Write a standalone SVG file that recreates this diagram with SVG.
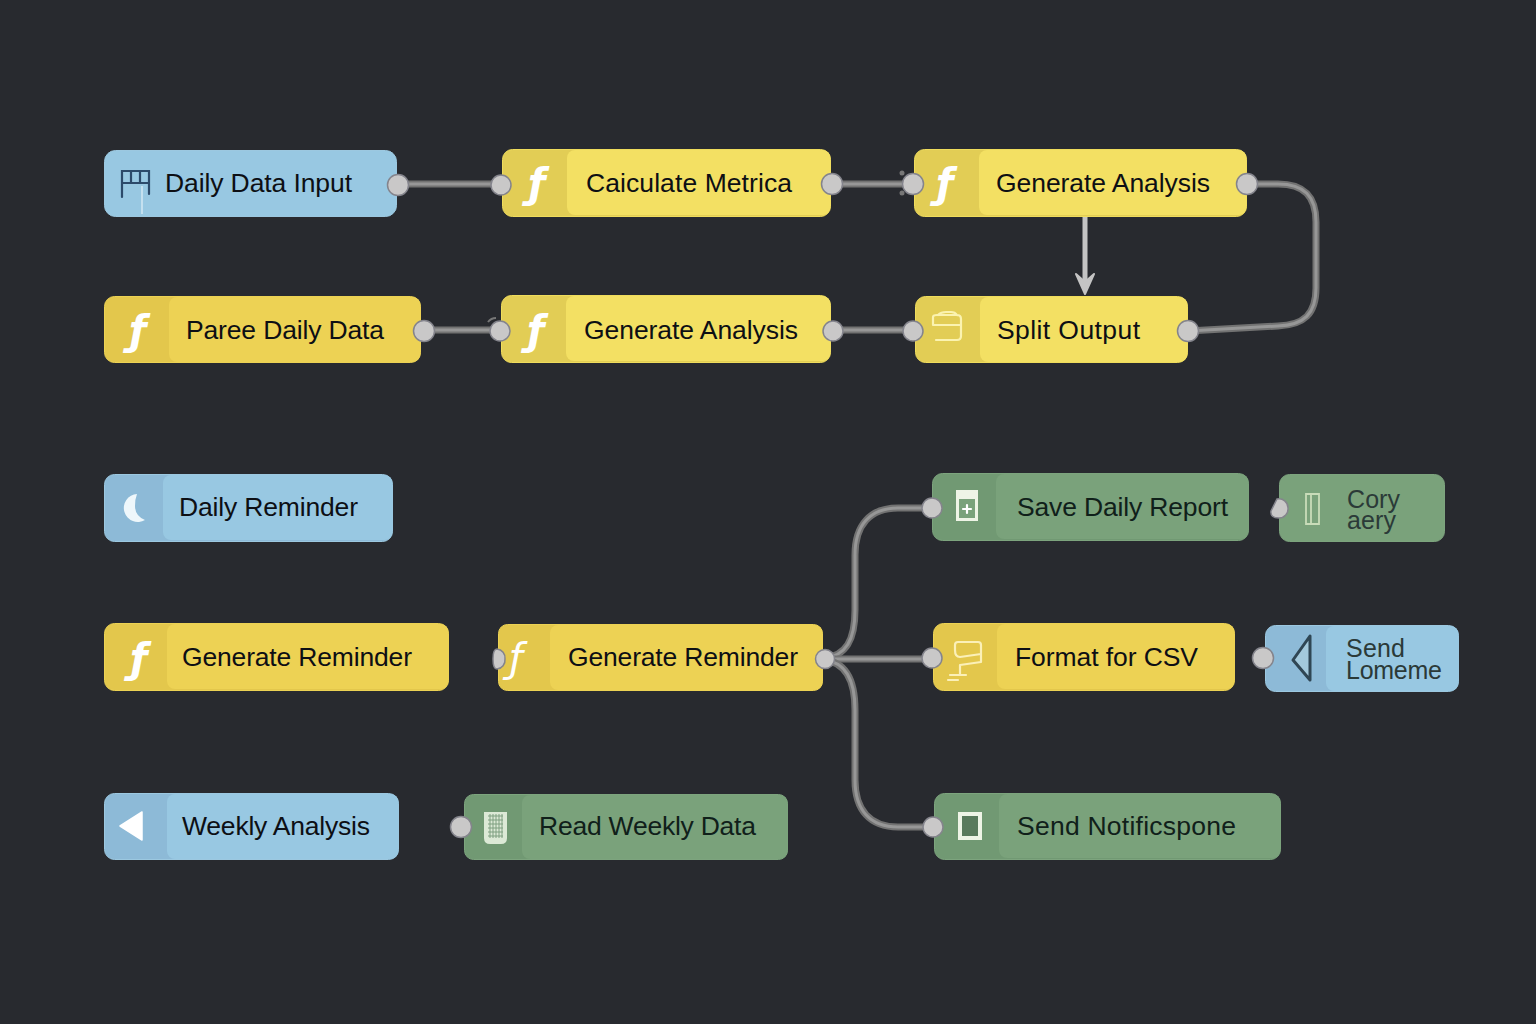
<svg xmlns="http://www.w3.org/2000/svg" width="1536" height="1024" viewBox="0 0 1536 1024">
<style>
text{font-family:"Liberation Sans",Arial,sans-serif;font-size:26.500px;fill:#0d0f14}
.fn{font-family:"DejaVu Sans",sans-serif;font-style:oblique;font-weight:700;font-size:40px;fill:#fff}
.sm{font-size:25px;fill:#2b3a38}
.box{stroke-width:1}
.blue .box{fill:#8dbad7;stroke:#9cc8e0}
.blue .body{fill:#98c8e2}
.yel .box{fill:#e2cd55;stroke:#efdc5c}
.yel .body{fill:#f3e063}
.gold .box{fill:#e3c74c;stroke:#ecd254}
.gold .body{fill:#edd254}
.grn .box{fill:#719973;stroke:#7da47e}
.grn .body{fill:#7aa27b}
.port{fill:#c9c8c8;stroke:#84848c;stroke-width:1.500}
.wire{fill:none;stroke:#727272;stroke-width:7}
.core{fill:none;stroke:#979797;stroke-width:3}
.ic{fill:none;stroke:#fff;stroke-width:2.200;stroke-linecap:round;stroke-linejoin:round}
.icd{fill:none;stroke:#2c4a6a;stroke-width:2.200;stroke-linecap:round}
</style>
<rect width="1536" height="1024" fill="#282a2f"/>
<g id="connectors">
<path class="wire" d="M398 184H500"/><path class="core" d="M398 184H500"/>
<path class="wire" d="M832 184H913"/><path class="core" d="M832 184H913"/>
<path class="wire" d="M424 330H500"/><path class="core" d="M424 330H500"/>
<path class="wire" d="M833 330H914"/><path class="core" d="M833 330H914"/>
<path class="wire" d="M1247 184H1278C1304 184 1316 196 1316 222V288C1316 314 1304 325 1278 326L1188 331"/><path class="core" d="M1247 184H1278C1304 184 1316 196 1316 222V288C1316 314 1304 325 1278 326L1188 331"/>
<path d="M1085 217V290" fill="none" stroke="#c4c4c4" stroke-width="5"/>
<path d="M1076 274L1085 294L1094 274L1085 282Z" fill="#c4c4c4" stroke="#c4c4c4" stroke-width="2" stroke-linejoin="round"/>
<path class="wire" d="M824 658C846 656 855 640 855 610V555C855 525 870 508 898 508H932"/><path class="core" d="M824 658C846 656 855 640 855 610V555C855 525 870 508 898 508H932"/>
<path class="wire" d="M824 659H932"/><path class="core" d="M824 659H932"/>
<path class="wire" d="M824 660C846 662 855 680 855 710V780C855 810 870 827 898 827H933"/><path class="core" d="M824 660C846 662 855 680 855 710V780C855 810 870 827 898 827H933"/>
</g>
<g id="n-daily-data-input" class="blue">
<rect class="box" x="104.500" y="150.500" width="292" height="66" rx="11" style="fill:#98c8e2"/>
<path class="icd" d="M122 197V171H149V194M122 183H149M131 171V183M140 171V183"/>
<path d="M142 186V214" stroke="#c4e0ef" stroke-width="2" fill="none"/>
<text x="165" y="192" textLength="187">Daily Data Input</text>
<circle class="port" cx="398" cy="185" r="10.500"/>
</g>
<g id="n-calculate-metrica" class="yel">
<rect class="box" x="502.500" y="149.500" width="328" height="67" rx="10"/>
<rect class="body" x="567" y="150" width="263.500" height="65" rx="8"/>
<text class="fn" x="528" y="197">ƒ</text>
<text x="586" y="192" textLength="206">Caiculate Metrica</text>
<circle class="port" cx="501" cy="185" r="10"/><circle class="port" cx="832" cy="184" r="10.500"/>
</g>
<g id="n-generate-analysis-1" class="yel">
<rect class="box" x="914.500" y="149.500" width="332" height="67" rx="10"/>
<rect class="body" x="979" y="150" width="267.500" height="65" rx="8"/>
<text class="fn" x="936" y="197">ƒ</text>
<text x="996" y="192" textLength="214">Generate Analysis</text>
<circle cx="902" cy="173" r="2.500" fill="#777"/><circle cx="902" cy="193" r="2.500" fill="#777"/>
<circle class="port" cx="913" cy="184" r="10.500"/><circle class="port" cx="1247" cy="184" r="10.500"/>
</g>
<g id="n-paree-daily-data" class="gold">
<rect class="box" x="104.500" y="296.500" width="316" height="66" rx="10"/>
<rect class="body" x="169" y="297" width="251.500" height="65" rx="8"/>
<text class="fn" x="129" y="344">ƒ</text>
<text x="186" y="339" textLength="198">Paree Daily Data</text>
<circle class="port" cx="424" cy="331" r="10.500"/>
</g>
<g id="n-generate-analysis-2" class="yel">
<rect class="box" x="501.500" y="295.500" width="329" height="67" rx="10"/>
<rect class="body" x="566" y="296" width="264.500" height="65" rx="8"/>
<text class="fn" x="527" y="344">ƒ</text>
<text x="584" y="339" textLength="214">Generate Analysis</text>
<path d="M488 322Q491 318 496 318" fill="none" stroke="#777" stroke-width="2"/>
<circle class="port" cx="500" cy="331" r="10"/><circle class="port" cx="833" cy="331" r="10"/>
</g>
<g id="n-split-output" class="yel">
<rect class="box" x="915.500" y="296.500" width="272" height="66" rx="10"/>
<rect class="body" x="980" y="297" width="207.500" height="65" rx="8"/>
<path class="ic" d="M933 325V317Q933 315 937 315H957Q961 315 961 319V336Q961 340 957 340H936M938 315Q941 312 946 312H951Q955 312 957 315M933 325H961" style="stroke:#fbf3b0"/>
<text x="997" y="339" textLength="143">Split Output</text>
<circle class="port" cx="913" cy="331" r="10"/><circle class="port" cx="1188" cy="331" r="10.500"/>
</g>
<g id="n-daily-reminder" class="blue">
<rect class="box" x="104.500" y="474.500" width="288" height="67" rx="10"/>
<rect class="body" x="163" y="475" width="229.500" height="65" rx="8"/>
<path d="M137 494A14 14 0 1 0 145 520Q135 516 135 506Q135 499 137 494Z" fill="#eef7fb"/>
<text x="179" y="516" textLength="179">Daily Reminder</text>
</g>
<g id="n-save-daily-report" class="grn">
<rect class="box" x="932.500" y="473.500" width="316" height="67" rx="10"/>
<rect class="body" x="996" y="474" width="252.500" height="65" rx="8"/>
<path d="M956 490H978V521H956Z" fill="#eef4e6"/>
<path d="M959 499H975V518H959Z" fill="#7aa27b"/>
<path class="ic" d="M967 505V513M963 509H971" stroke-width="1.800"/>
<text x="1017" y="516" textLength="211" style="fill:#10201a">Save Daily Report</text>
<circle class="port" cx="932" cy="508" r="10"/>
</g>
<g id="n-cory-aery" class="grn">
<rect class="box" x="1279.500" y="474.500" width="165" height="67" rx="10" style="fill:#7aa27b"/>
<path d="M1306 494H1319V524H1306ZM1311 494V524" fill="none" stroke="#c9dcb9" stroke-width="1.800"/>
<text class="sm" x="1347" y="508" textLength="53">Cory</text>
<text class="sm" x="1347" y="529" textLength="49">aery</text>
<path class="port" d="M1277 499A9 9 0 0 1 1288 508A9 9 0 0 1 1279 518Q1270 518 1271 511Z"/>
</g>
<g id="n-generate-reminder-1" class="gold">
<rect class="box" x="104.500" y="623.500" width="344" height="67" rx="10"/>
<rect class="body" x="167" y="624" width="281.500" height="65" rx="8"/>
<text class="fn" x="130" y="672">ƒ</text>
<text x="182" y="666" textLength="230">Generate Reminder</text>
</g>
<g id="n-generate-reminder-2" class="gold">
<rect class="box" x="498.500" y="624.500" width="324" height="66" rx="9"/>
<rect class="body" x="550" y="625" width="272.500" height="65" rx="8"/>
<text class="fn" x="509" y="672" style="font-weight:400">ƒ</text>
<text x="568" y="666" textLength="230">Generate Reminder</text>
<path class="port" d="M497 649A9 9 0 0 1 505 659A9 9 0 0 1 497 669Q493 669 493 659Q493 649 497 649Z"/>
<circle class="port" cx="825" cy="659" r="9.500"/>
</g>
<g id="n-format-for-csv" class="gold">
<rect class="box" x="933.500" y="623.500" width="301" height="67" rx="10"/>
<rect class="body" x="997" y="624" width="237.500" height="65" rx="8"/>
<path class="ic" d="M955 650V645Q955 642 958 642H978Q981 642 981 645V662L960 665V675M955 650Q955 657 960 657L981 654M950 675H966M948 680H958" style="stroke:#fbf0b8"/>
<text x="1015" y="666" textLength="183">Format for CSV</text>
<circle class="port" cx="932" cy="658" r="10"/>
</g>
<g id="n-send-lomeme" class="blue">
<rect class="box" x="1265.500" y="625.500" width="193" height="66" rx="10"/>
<rect class="body" x="1326" y="626" width="132.500" height="65" rx="8"/>
<path d="M1310 636V680L1293 660Z" fill="#a3c9dc" stroke="#2f4654" stroke-width="3" stroke-linejoin="round"/>
<text class="sm" x="1346" y="657" textLength="59">Send</text>
<text class="sm" x="1346" y="679" textLength="96">Lomeme</text>
<circle class="port" cx="1263" cy="658" r="10.500"/>
</g>
<g id="n-weekly-analysis" class="blue">
<rect class="box" x="104.500" y="793.500" width="294" height="66" rx="10"/>
<rect class="body" x="167" y="794" width="231.500" height="65" rx="8"/>
<path d="M142 812V840L120 826Z" fill="#fff" stroke="#fff" stroke-width="1.500" stroke-linejoin="round"/>
<text x="182" y="835" textLength="188">Weekly Analysis</text>
</g>
<g id="n-read-weekly-data" class="grn">
<rect class="box" x="464.500" y="794.500" width="323" height="65" rx="9"/>
<rect class="body" x="522" y="795" width="265.500" height="64" rx="8"/>
<path d="M484 812H507V838Q507 844 501 844H490Q484 844 484 838Z" fill="#dce9d6"/>
<path d="M488 816H503M488 820H503M488 824H503M488 828H503M488 832H503M488 836H503M490 814V838M493 814V838M496 814V838M499 814V838M502 814V838" stroke="#7f9f80" stroke-width="1" fill="none"/>
<text x="539" y="835" textLength="217" style="fill:#10201a">Read Weekly Data</text>
<circle class="port" cx="461" cy="827" r="10.500"/>
</g>
<g id="n-send-notificspone" class="grn">
<rect class="box" x="934.500" y="793.500" width="346" height="66" rx="10"/>
<rect class="body" x="999" y="794" width="281.500" height="64" rx="8"/>
<path d="M958 812H982V840H958Z" fill="#eef4e6"/>
<path d="M962 816H978V836H962Z" fill="#597a5c"/>
<text x="1017" y="835" textLength="219" style="fill:#10201a">Send Notificspone</text>
<circle class="port" cx="933" cy="827" r="10"/>
</g>
</svg>
